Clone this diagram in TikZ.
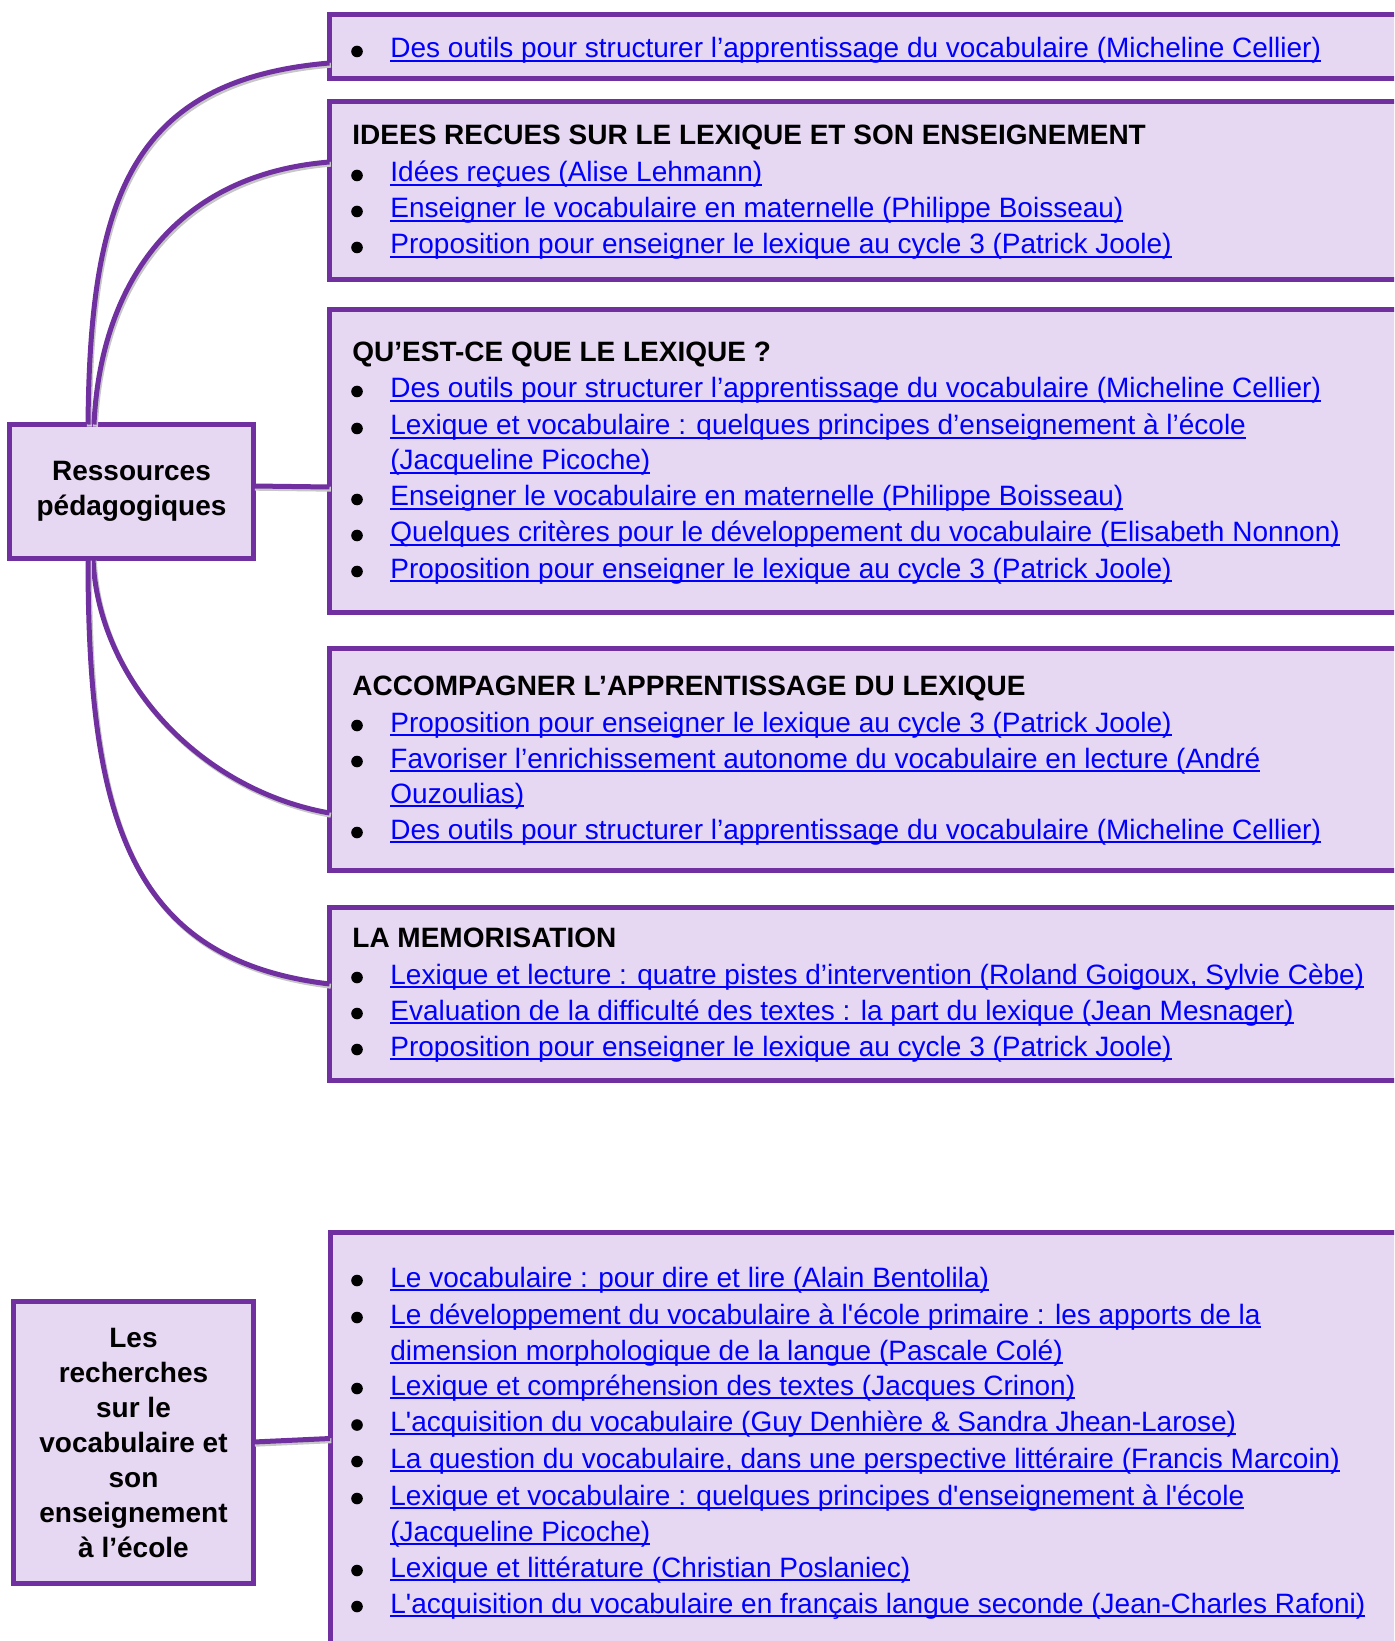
\documentclass[tikz,border=0pt]{standalone}
\usepackage{fontspec}
\newfontfamily\arial{Liberation Sans}
\usetikzlibrary{positioning}
\definecolor{purp}{RGB}{112,48,160}
\definecolor{lav}{RGB}{230,215,242}
\definecolor{lienbleu}{RGB}{0,0,255}
\newcommand\lien[1]{\setbox0\hbox{#1}\rlap{\rule[-1.9pt]{\wd0}{0.95pt}}\box0}
\newcommand\ent[3]{\fill (357,#2-6.5) circle (2.9pt);\node[ref] (#1) at (390,#2) {\lien{#3}};}
\newcommand\suite[3]{\node[ref] (#1) at (390,#2) {\lien{#3}};}
\newcommand\titre[3]{\node[tete] (#1) at (352,#2) {#3};}
\tikzset{
  cadre/.style={draw=purp, fill=lav, line width=2.5pt, outer sep=0pt, inner sep=0pt, anchor=north west},
  pivot/.style={draw=purp, fill=lav, line width=2.5pt, outer sep=0pt, align=center,
    font=\arial\bfseries\fontsize{14pt}{17.5pt}\selectfont},
  ref/.style={anchor=base west, inner sep=0pt, text=lienbleu, font=\arial\fontsize{14pt}{17.5pt}\selectfont},
  tete/.style={anchor=base west, inner sep=0pt, font=\arial\bfseries\fontsize{14pt}{17.5pt}\selectfont},
  lien/.style={draw=purp, line width=2.5pt,
    preaction={draw=black!22, line width=2.5pt, transform canvas={shift={(0.7pt,-1.1pt)}}}}
}
\begin{document}
\begin{tikzpicture}[x=0.5pt,y=-0.5pt]
\clip (0,0) rectangle (1394,1641);
% les cadres
\node[cadre, minimum width=545.25pt, minimum height=32pt] (b1) at (329.5,14.5) {};
\node[cadre, minimum width=545.25pt, minimum height=89.25pt] (b2) at (329.5,101.5) {};
\node[cadre, minimum width=545.25pt, minimum height=151.25pt] (b3) at (329.5,310) {};
\node[cadre, minimum width=545.25pt, minimum height=111pt] (b4) at (329.5,648) {};
\node[cadre, minimum width=545.25pt, minimum height=86.5pt] (b5) at (329.5,907) {};
\node[cadre, minimum width=545pt, minimum height=240pt] (b6) at (330,1232.5) {};
\node[pivot, minimum width=122pt, minimum height=67pt] (ress) at (131.5,491.5) {Ressources\\pédagogiques};
\node[pivot, minimum width=120pt, minimum height=141pt] (rech) at (133.5,1442.5)
  {Les\\recherches\\sur le\\vocabulaire et\\son\\enseignement\\à l’école};
% liaisons
\draw[lien] ([xshift=-21.75pt]ress.north) .. controls +(2,-224.5) and +(-199.5,17) .. ([yshift=-8.25pt]b1.west);
\draw[lien] ([xshift=-18.75pt]ress.north) .. controls +(6,-134.5) and +(-159.5,13) .. ([yshift=14.375pt]b2.west);
\draw[lien] ([yshift=2.75pt]ress.east) -- ([yshift=-12.875pt]b3.west);
\draw[lien] ([xshift=-19.25pt]ress.south) .. controls +(5,121.5) and +(-129.5,-23) .. ([yshift=-27pt]b4.west);
\draw[lien] ([xshift=-21.75pt]ress.south) .. controls +(0,261.5) and +(-199.5,-24) .. ([yshift=4.75pt]b5.west);
\draw[lien] ([yshift=0.25pt]rech.east) -- ([yshift=17pt]b6.west);
% contenu
\ent{r11}{58}{Des outils pour structurer l’apprentissage du vocabulaire (Micheline Cellier)}
\titre{h2}{145}{IDEES RECUES SUR LE LEXIQUE ET SON ENSEIGNEMENT}
\ent{r21}{182}{Idées reçues (Alise Lehmann)}
\ent{r22}{218}{Enseigner le vocabulaire en maternelle (Philippe Boisseau)}
\ent{r23}{254}{Proposition pour enseigner le lexique au cycle 3 (Patrick Joole)}
\titre{h3}{362}{QU’EST-CE QUE LE LEXIQUE ?}
\ent{r31}{398}{Des outils pour structurer l’apprentissage du vocabulaire (Micheline Cellier)}
\ent{r32}{435}{Lexique et vocabulaire : quelques principes d’enseignement à l’école}
\suite{r32b}{470}{(Jacqueline Picoche)}
\ent{r33}{506}{Enseigner le vocabulaire en maternelle (Philippe Boisseau)}
\ent{r34}{542}{Quelques critères pour le développement du vocabulaire (Elisabeth Nonnon)}
\ent{r35}{578}{Proposition pour enseigner le lexique au cycle 3 (Patrick Joole)}
\titre{h4}{695}{ACCOMPAGNER L’APPRENTISSAGE DU LEXIQUE}
\ent{r41}{732}{Proposition pour enseigner le lexique au cycle 3 (Patrick Joole)}
\ent{r42}{768}{Favoriser l’enrichissement autonome du vocabulaire en lecture (André}
\suite{r42b}{803}{Ouzoulias)}
\ent{r43}{839}{Des outils pour structurer l’apprentissage du vocabulaire (Micheline Cellier)}
\titre{h5}{947}{LA MEMORISATION}
\ent{r51}{984}{Lexique et lecture : quatre pistes d’intervention (Roland Goigoux, Sylvie Cèbe)}
\ent{r52}{1020}{Evaluation de la difficulté des textes : la part du lexique (Jean Mesnager)}
\ent{r53}{1056}{Proposition pour enseigner le lexique au cycle 3 (Patrick Joole)}
\ent{r61}{1287}{Le vocabulaire : pour dire et lire (Alain Bentolila)}
\ent{r62}{1324}{Le développement du vocabulaire à l'école primaire : les apports de la}
\suite{r62b}{1360}{dimension morphologique de la langue (Pascale Colé)}
\ent{r63}{1395}{Lexique et compréhension des textes (Jacques Crinon)}
\ent{r64}{1431.5}{L'acquisition du vocabulaire (Guy Denhière \& Sandra Jhean-Larose)}
\ent{r65}{1468}{La question du vocabulaire, dans une perspective littéraire (Francis Marcoin)}
\ent{r66}{1505}{Lexique et vocabulaire : quelques principes d'enseignement à l'école}
\suite{r66b}{1541}{(Jacqueline Picoche)}
\ent{r67}{1577}{Lexique et littérature (Christian Poslaniec)}
\ent{r68}{1613}{L'acquisition du vocabulaire en français langue seconde (Jean-Charles Rafoni)}
\end{tikzpicture}
\end{document}
